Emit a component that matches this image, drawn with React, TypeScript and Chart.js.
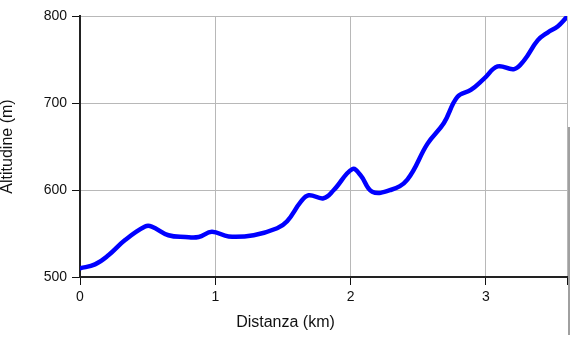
import React, { useEffect, useRef } from "react";
import { Chart, registerables } from "chart.js";

Chart.register(...registerables);

const distanceKm = [
  0.0, 0.111, 0.21, 0.333, 0.481, 0.53, 0.654, 0.778, 0.877, 0.975, 1.099, 1.284,
  1.457, 1.531, 1.63, 1.69, 1.8, 1.876, 2.013, 2.074, 2.16, 2.296, 2.42, 2.568,
  2.69, 2.79, 2.889, 2.987, 3.087, 3.21, 3.283, 3.383, 3.457, 3.531, 3.6,
];
const altitudeM = [
  510, 514.5, 525, 542.5, 558, 558, 548, 546, 546, 552, 546.5, 548,
  556, 564, 586, 594, 590.5, 600, 624, 617, 598, 600, 612, 653,
  677, 707, 715, 728, 742, 739, 749, 772, 781, 788, 799,
];
const xTickValues = [0, 1, 2, 3];
const yTickValues = [500, 600, 700, 800];

export default function App() {
  const ref = useRef<HTMLCanvasElement | null>(null);
  useEffect(() => {
    if (!ref.current) return;
    const font = "'Liberation Sans', Arial, sans-serif";
    const chart = new Chart(ref.current, {
      type: "line",
      data: {
        datasets: [
          {
            data: distanceKm.map((d, i) => ({ x: d, y: altitudeM[i] })),
            borderColor: "#0000ff",
            borderWidth: 4.5,
            pointRadius: 0,
            tension: 0.4,
            fill: false,
            borderCapStyle: "round",
            borderJoinStyle: "round",
          },
        ],
      },
      options: {
        animation: false,
        responsive: false,
        maintainAspectRatio: false,
        layout: { padding: { left: 4, right: 4, top: 16, bottom: 0 } },
        plugins: {
          legend: { display: false },
          tooltip: { enabled: false },
          title: {
            display: true,
            position: "bottom",
            text: "Distanza (km)",
            color: "#111",
            font: { family: font, size: 16, weight: "normal", lineHeight: 1 },
            padding: { top: 0, bottom: 6 },
          },
        },
        scales: {
          x: {
            type: "linear",
            min: 0,
            max: 3.6,
            afterFit: (s: any) => {
              s.height = 38;
            },
            afterBuildTicks: (s: any) => {
              s.ticks = [...xTickValues, 3.6].map((v) => ({ value: v }));
            },
            ticks: {
              color: "#111",
              font: { family: font, size: 14 },
              padding: 4,
              maxRotation: 0,
              callback: (v: any) => (xTickValues.includes(Number(v)) ? String(v) : ""),
            },
            grid: { color: "#b8b8b8", tickColor: "#111", tickLength: 8, lineWidth: 1 },
            border: { display: true, color: "#222", width: 2 },
          },
          y: {
            type: "linear",
            min: 500,
            max: 800,
            afterFit: (s: any) => {
              s.width = 76;
            },
            afterBuildTicks: (s: any) => {
              s.ticks = yTickValues.map((v) => ({ value: v }));
            },
            ticks: {
              color: "#111",
              font: { family: font, size: 14 },
              padding: 5,
            },
            title: {
              display: true,
              text: "Altitudine (m)",
              color: "#111",
              font: { family: font, size: 16, weight: "normal", lineHeight: 1 },
              padding: { top: -4, bottom: 0 },
            },
            grid: { color: "#b8b8b8", tickColor: "#111", tickLength: 8, lineWidth: 1 },
            border: { display: true, color: "#222", width: 2 },
          },
        },
      },
    });
    return () => chart.destroy();
  }, []);
  return (
    <div style={{ position: "fixed", left: 0, top: 0, width: 571, height: 337, background: "#fff" }}>
      <canvas ref={ref} width={571} height={337} style={{ display: "block", width: 571, height: 337 }} />
      <div style={{ position: "absolute", left: 568, top: 127, width: 2, height: 208, background: "#a0a0a0" }} />
    </div>
  );
}
